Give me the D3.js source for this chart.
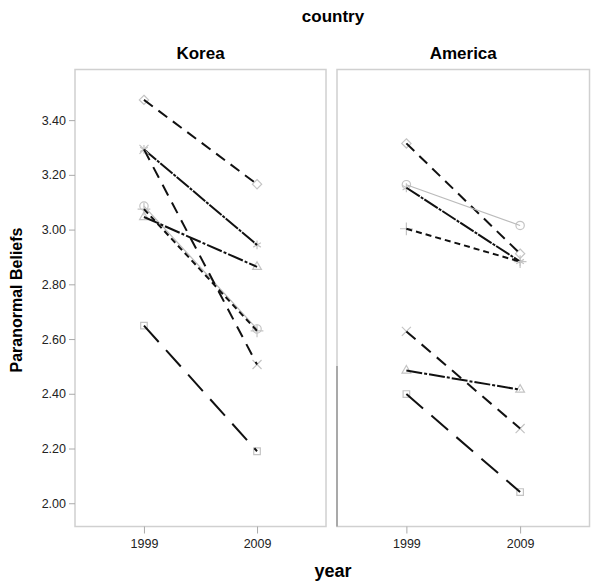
<!DOCTYPE html>
<html><head><meta charset="utf-8">
<script src="https://cdn.jsdelivr.net/npm/d3@7"></script>
<style>body{margin:0;background:#fff}svg{display:block}text{font-family:"Liberation Sans",Arial,sans-serif}</style>
</head><body><svg id="c" width="607" height="583"></svg>
<script>
const countries = ["Korea", "America"];
const years = ["1999", "2009"];
const yTicks = [2.0, 2.2, 2.4, 2.6, 2.8, 3.0, 3.2, 3.4];
const groups = ["diamond", "circle", "asterisk", "plus", "cross", "triangle", "square"];
// values [1999, 2009] per group, for each country
const koreaValues = [
  [3.474, 3.166],
  [3.086, 2.637],
  [3.293, 2.944],
  [3.075, 2.630],
  [3.293, 2.507],
  [3.046, 2.864],
  [2.649, 2.190]
];
const americaValues = [
  [3.315, 2.912],
  [3.164, 3.015],
  [3.153, 2.883],
  [3.003, 2.883],
  [2.628, 2.273],
  [2.485, 2.415],
  [2.399, 2.041]
];

const styles = {
  diamond:  {stroke:"#111", width:2, dash:"11,7"},
  circle:   {stroke:"#bbb", width:1.2, dash:null},
  asterisk: {stroke:"#111", width:2, dash:"16,1.2,3,1.2"},
  plus:     {stroke:"#111", width:2, dash:"6,4"},
  cross:    {stroke:"#111", width:2, dash:"12,8"},
  triangle: {stroke:"#111", width:2, dash:"16,2,3,2"},
  square:   {stroke:"#111", width:2, dash:"22,11"}
};
const symbolMap = {
  diamond: d3.symbolDiamond2, circle: d3.symbolCircle, asterisk: d3.symbolAsterisk,
  plus: d3.symbolPlus, cross: d3.symbolTimes, triangle: d3.symbolTriangle2, square: d3.symbolSquare2
};

const svg = d3.select("#c");
const panelTop = 69.5, panelBottom = 526.5;
const panels = [{name:"Korea", x0:75, x1:326, vals:koreaValues},
                {name:"America", x0:337, x1:589.5, vals:americaValues}];

const y = d3.scaleLinear().domain([1.915, 3.585]).range([panelBottom, panelTop]);

svg.append("text").attr("x", 333).attr("y", 22).attr("text-anchor","middle")
  .attr("font-weight","bold").attr("font-size",17).text("country");
svg.append("text").attr("x", 333).attr("y", 577).attr("text-anchor","middle")
  .attr("font-weight","bold").attr("font-size",18).text("year");
svg.append("text").attr("transform","translate(22,300) rotate(-90)").attr("text-anchor","middle")
  .attr("font-weight","bold").attr("font-size",16).text("Paranormal Beliefs");

panels.forEach((p, pi) => {
  const x = d3.scalePoint().domain(years).range([p.x0, p.x1]).padding(0.61);
  const g = svg.append("g");
  g.append("text").attr("x", (p.x0+p.x1)/2).attr("y", 59).attr("text-anchor","middle")
    .attr("font-weight","bold").attr("font-size",17).text(countries[pi]);
  g.append("rect").attr("x",p.x0).attr("y",panelTop).attr("width",p.x1-p.x0)
    .attr("height",panelBottom-panelTop).attr("fill","#fff").attr("stroke","#d0d0d0").attr("stroke-width",1.5);
  if (pi === 1) {
    g.append("line").attr("x1",p.x0).attr("x2",p.x0).attr("y1",366).attr("y2",panelBottom)
      .attr("stroke","#999").attr("stroke-width",1.5);
  }
  const xa = g.append("g").attr("transform",`translate(0,${panelBottom})`)
    .call(d3.axisBottom(x).tickSize(7).tickPadding(6));
  xa.select(".domain").remove();
  xa.selectAll("line").attr("stroke","#aaa");
  xa.selectAll("text").attr("font-size",12.5).attr("fill","#222")
    .style("font-family","'Liberation Sans',Arial,sans-serif");
  if (pi === 0) {
    const ya = g.append("g").attr("transform",`translate(${p.x0},0)`)
      .call(d3.axisLeft(y).tickValues(yTicks).tickFormat(d3.format(".2f")).tickSize(6).tickPadding(3));
    ya.select(".domain").remove();
    ya.selectAll("line").attr("stroke","#aaa");
    ya.selectAll("text").attr("font-size",12.5).attr("fill","#222")
      .style("font-family","'Liberation Sans',Arial,sans-serif");
  }
  groups.forEach((gr, gi) => {
    const v = p.vals[gi];
    if (!v) return;
    const st = styles[gr];
    const pts = years.map((yr, i) => [x(yr), y(v[i])]);
    pts.forEach(pt => {
      g.append("path").attr("d", d3.symbol().type(symbolMap[gr]).size(55)())
        .attr("transform",`translate(${pt[0]},${pt[1]})`)
        .attr("fill","none").attr("stroke","#c4c4c4").attr("stroke-width",1.2);
    });
    g.append("path").attr("d", d3.line()(pts)).attr("fill","none")
      .attr("stroke", st.stroke).attr("stroke-width", st.width)
      .attr("stroke-dasharray", st.dash);
  });
});
</script></body></html>
